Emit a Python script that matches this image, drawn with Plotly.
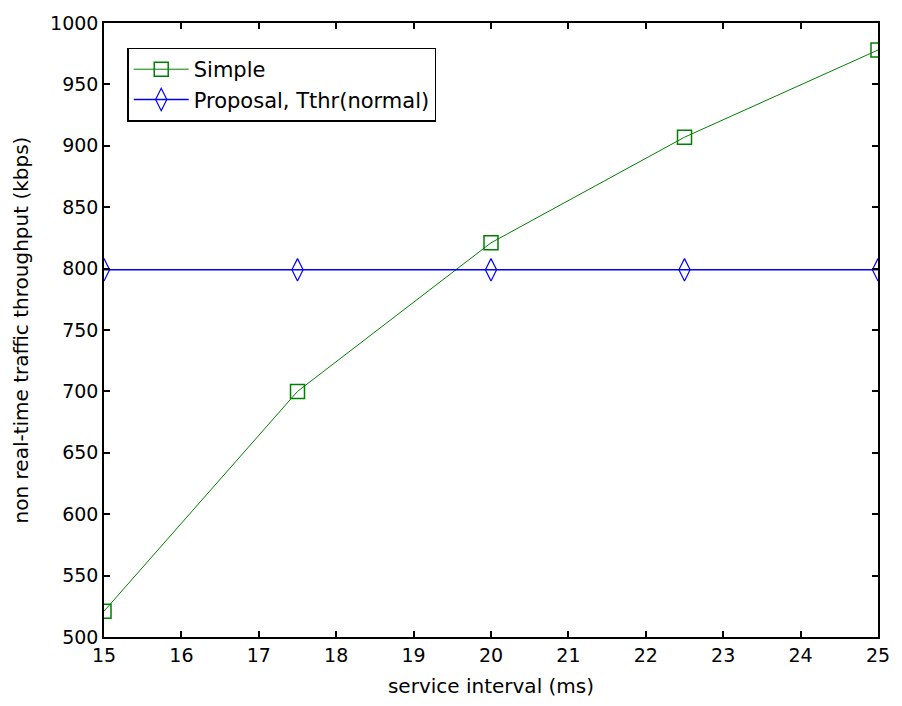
import plotly.graph_objects as go

x_vals = [15, 17.5, 20, 22.5, 25]
simple = [521, 700, 821, 907, 978]
proposal = [799, 799, 799, 799, 799]
x_ticks = [15, 16, 17, 18, 19, 20, 21, 22, 23, 24, 25]
y_ticks = [500, 550, 600, 650, 700, 750, 800, 850, 900, 950, 1000]

FONT = "DejaVu Sans"

fig = go.Figure()
fig.add_trace(go.Scatter(
    x=x_vals, y=simple, mode="lines+markers", name="Simple",
    line=dict(color="#008000", width=1),
    marker=dict(symbol="square-open", size=14, color="#008000", line=dict(width=1.5)),
))
fig.add_trace(go.Scatter(
    x=x_vals, y=proposal, mode="lines+markers", name="Proposal, Tthr(normal)",
    line=dict(color="#0000FF", width=1.5),
    marker=dict(symbol="diamond-tall-open", size=16, color="#0000FF", line=dict(width=1.2)),
))

axis_common = dict(
    showgrid=False, zeroline=False, showline=True, linecolor="black", linewidth=1.5,
    mirror="ticks", ticks="inside", ticklen=6, tickcolor="black", tickwidth=1.5,
    tickfont=dict(family=FONT, size=19, color="black"),
)

fig.update_layout(
    width=902, height=706,
    margin=dict(l=104, r=16, t=21, b=68),
    paper_bgcolor="white", plot_bgcolor="white",
    font=dict(family=FONT, color="black"),
    xaxis=dict(range=[15, 25], tickvals=x_ticks,
               title=dict(text="service interval (ms)", font=dict(size=20), standoff=14),
               **axis_common),
    yaxis=dict(range=[500, 1000], tickvals=y_ticks,
               title=dict(text="non real-time traffic throughput (kbps)", font=dict(size=20), standoff=16),
               **axis_common),
    legend=dict(x=0.03, y=0.96, xanchor="left", yanchor="top",
                bordercolor="black", borderwidth=1.5, bgcolor="white",
                font=dict(size=21), tracegroupgap=0, itemwidth=55),
    showlegend=True,
)

fig.write_html("out.html")
